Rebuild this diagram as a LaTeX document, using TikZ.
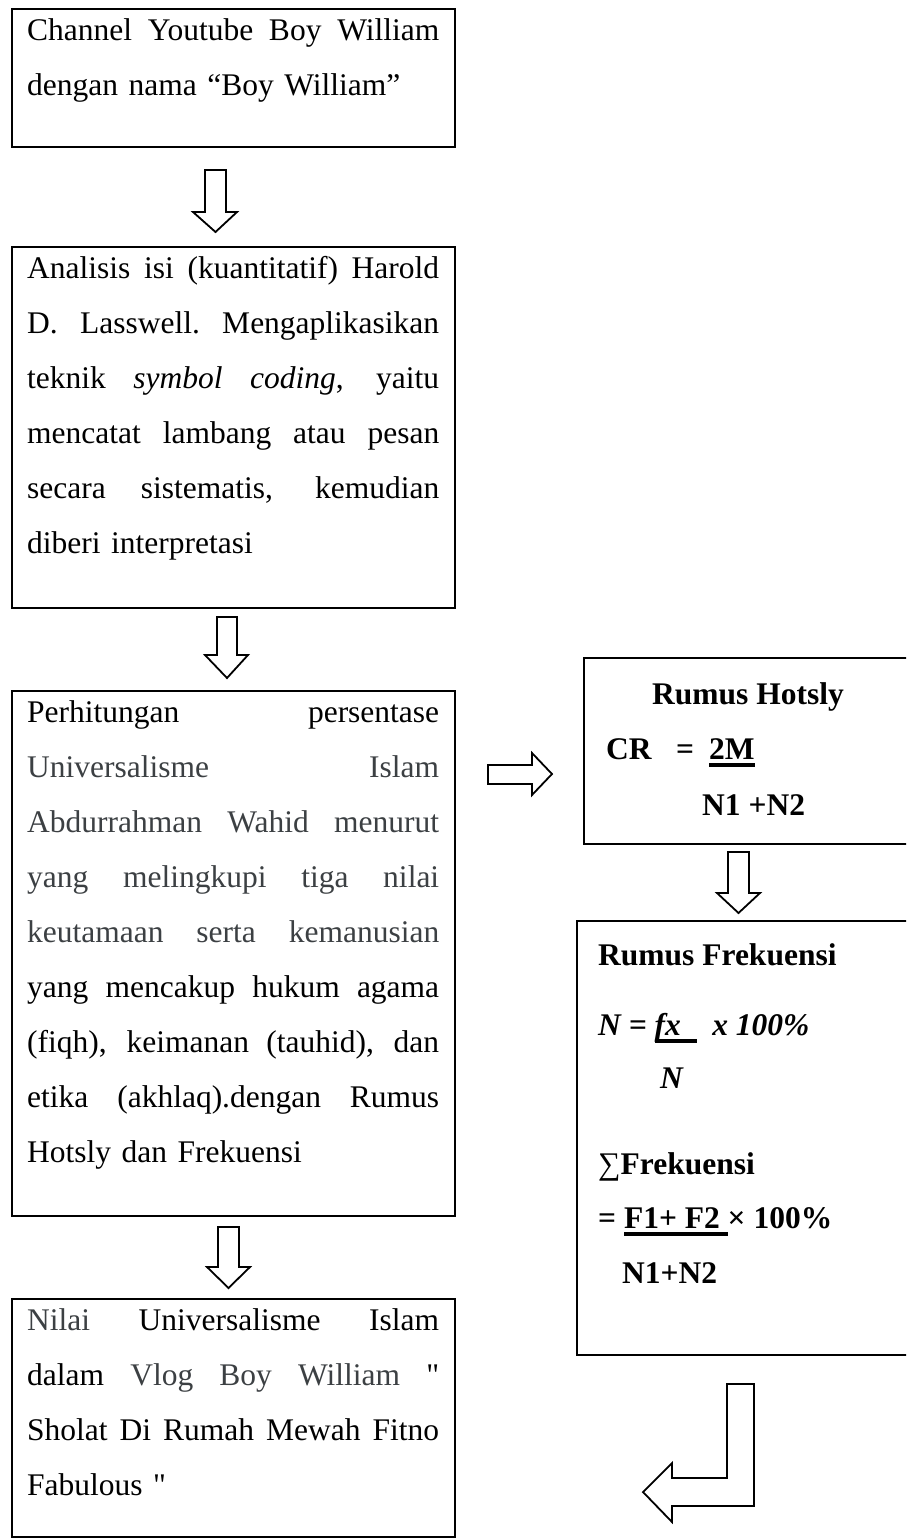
\documentclass[tikz,border=0pt]{standalone}
\usepackage{fontspec}
\setmainfont{Liberation Serif}[Ligatures=TeXOff]
\definecolor{txtgrey}{RGB}{60,64,67}
\newcommand\jl[1]{\hbox to\hsize{\spaceskip=0.25em plus 1fil\xspaceskip=0.25em plus 1fil\relax\rule{0pt}{31pt}#1}}
\newcommand\lastln[1]{\hbox{\rule{0pt}{31pt}#1}}
\newcommand\myul[1]{\setbox0\hbox{#1}\rlap{\rule[-7.5pt]{\wd0}{3.2pt}}\box0}
\begin{document}
\begin{tikzpicture}[x=1pt,y=-1pt,
  box/.style={draw, line width=2.4pt, rectangle, inner sep=0pt, outer sep=0pt, anchor=north west},
  bodytext/.style={inner sep=0pt, anchor=north west, text width=412pt, font=\fontsize{31.5pt}{55pt}\selectfont},
  ftxt/.style={inner sep=0pt, anchor=base west, font=\fontsize{31.5pt}{55pt}\selectfont\bfseries},
  ftxti/.style={inner sep=0pt, anchor=base west, font=\fontsize{31.5pt}{55pt}\selectfont\bfseries\itshape},
  blockarrow/.style={draw, line width=1.8pt, fill=white, line join=miter}]
\useasboundingbox (0,0) rectangle (906,1540);
\clip (0,0) rectangle (906,1540);

% left column boxes
\node[box, minimum width=443pt, minimum height=138pt] (b1) at (12,9) {};
\node[bodytext] (t1) at ([xshift=15pt]b1.north west) {%
\jl{Channel Youtube Boy William}
\lastln{dengan nama “Boy William”}};

\node[box, minimum width=443pt, minimum height=361pt] (b2) at (12,247) {};
\node[bodytext] (t2) at ([xshift=15pt]b2.north west) {%
\jl{Analisis isi (kuantitatif) Harold}
\jl{D. Lasswell. Mengaplikasikan}
\jl{teknik \textit{symbol coding}, yaitu}
\jl{mencatat lambang atau pesan}
\jl{secara sistematis, kemudian}
\lastln{diberi interpretasi}};

\node[box, minimum width=443pt, minimum height=525pt] (b3) at (12,691) {};
\node[bodytext] (t3) at ([xshift=15pt]b3.north west) {%
\jl{Perhitungan persentase}
\jl{\color{txtgrey}Universalisme Islam}
\jl{\color{txtgrey}Abdurrahman Wahid menurut}
\jl{\color{txtgrey}yang melingkupi tiga nilai}
\jl{\color{txtgrey}keutamaan serta kemanusian}
\jl{yang mencakup hukum agama}
\jl{(fiqh), keimanan (tauhid), dan}
\jl{etika (akhlaq).dengan Rumus}
\lastln{Hotsly dan Frekuensi}};

\node[box, minimum width=443pt, minimum height=238pt] (b4) at (12,1299) {};
\node[bodytext] (t4) at ([xshift=15pt]b4.north west) {%
\jl{{\color{txtgrey}Nilai} Universalisme Islam}
\jl{dalam {\color{txtgrey}Vlog Boy William} "}
\jl{Sholat Di Rumah Mewah Fitno}
\lastln{Fabulous "}};

% right column boxes
\node[box, minimum width=400pt, minimum height=186pt] (b5) at (584,658) {};
\node[ftxt] (h1) at (652,704) {Rumus Hotsly};
\node[ftxt] (h2) at (606,759) {CR};
\node[ftxt] (h3) at (676,759) {=};
\node[ftxt] (h4) at (709,759) {\myul{2M}};
\node[ftxt] (h5) at (702,815) {N1 +N2};

\node[box, minimum width=400pt, minimum height=434pt] (b6) at (577,921) {};
\node[ftxt] (f1) at (598,965) {Rumus Frekuensi};
\node[ftxti] (f2) at (598,1035) {N = \myul{fx\ \ }\ \ x 100\%};
\node[ftxti] (f3) at (660,1088) {N};
\node[ftxt] (f4) at (598,1174) {{\mdseries ∑}Frekuensi};
\node[ftxt] (f5) at (598,1228) {= \myul{F1+ F2\ } × 100\%};
\node[ftxt] (f6) at (622,1283) {N1+N2};

% block arrows
\draw[blockarrow] (205,170) -- (226,170) -- (226,212) -- (237,212) -- (215.5,232) -- (193,212) -- (205,212) -- cycle;
\draw[blockarrow] (217,617) -- (237,617) -- (237,655) -- (248,655) -- (227,678) -- (205,655) -- (217,655) -- cycle;
\draw[blockarrow] (218,1227) -- (239,1227) -- (239,1267) -- (250,1267) -- (228.5,1288) -- (207,1267) -- (218,1267) -- cycle;
\draw[blockarrow] (728,852) -- (749,852) -- (749,893) -- (760,893) -- (738.5,913) -- (717,893) -- (728,893) -- cycle;
\draw[blockarrow] (488,765) -- (532,765) -- (532,753) -- (552,774) -- (532,795) -- (532,784) -- (488,784) -- cycle;
\draw[blockarrow] (727,1384) -- (754,1384) -- (754,1506) -- (672,1506) -- (672,1522) -- (643,1492) -- (672,1463) -- (672,1478) -- (727,1478) -- cycle;
\end{tikzpicture}
\end{document}
